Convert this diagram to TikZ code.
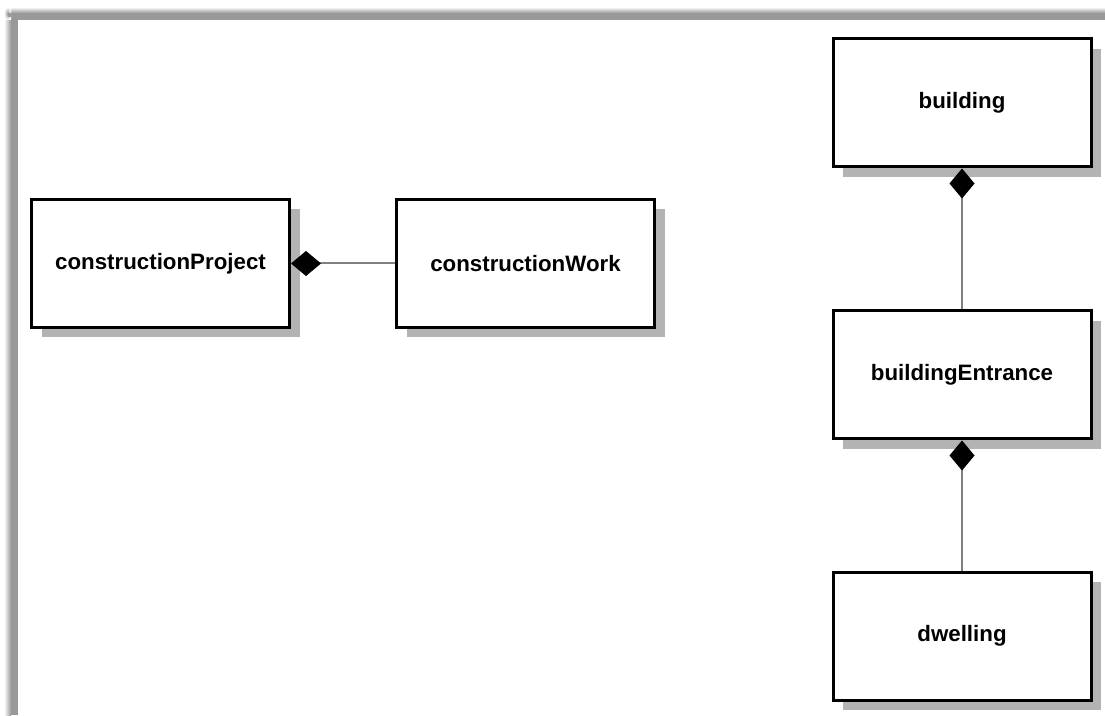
\documentclass[tikz,border=0pt]{standalone}
\usepackage{fontspec}
\setmainfont{Liberation Sans}
\usetikzlibrary{arrows.meta,shadows}
\definecolor{shadowgray}{HTML}{B3B3B3}
\definecolor{linkgray}{HTML}{808080}
\definecolor{framegray}{HTML}{999999}
\tikzset{
  umlbox/.style={draw=black, line width=3pt, fill=white, minimum width=258pt, minimum height=128pt,
    inner sep=0pt, font=\fontsize{22.3}{26}\selectfont\bfseries,
    drop shadow={shadow xshift=10pt, shadow yshift=-10pt, fill=shadowgray, opacity=1}},
  compo/.style={draw=linkgray, line width=2pt, {Diamond[length=30pt,width=25pt,black,fill=black,line width=1pt]}-}
}
\begin{document}
\begin{tikzpicture}[x=1pt,y=1pt]
\useasboundingbox (0,0) rectangle (1105,715);
% page shadow frame
\fill[framegray] (11,0) rectangle (18,702);
\fill[framegray] (11,695) rectangle (1105,702);
\shade[top color=white, bottom color=framegray] (11,702) rectangle (1105,708);
\shade[left color=white, right color=framegray] (4,0) rectangle (11,695);
\shade[inner color=framegray, outer color=white] (4,695) rectangle (11,708);
\fill[framegray] (8,698) rectangle (11,702);
% classes
\node[umlbox] (cp) at (160.5,451.5) {constructionProject};
\node[umlbox] (cw) at (525.5,451.5) {constructionWork};
\node[umlbox] (bu) at (962,612) {building};
\node[umlbox] (be) at (962,340) {buildingEntrance};
\node[umlbox] (dw) at (962,79) {dwelling};
% compositions
\draw[compo] (cp.east) -- (cw.west);
\draw[compo] (bu.south) -- (be.north);
\draw[compo] (be.south) -- (dw.north);
\end{tikzpicture}
\end{document}
